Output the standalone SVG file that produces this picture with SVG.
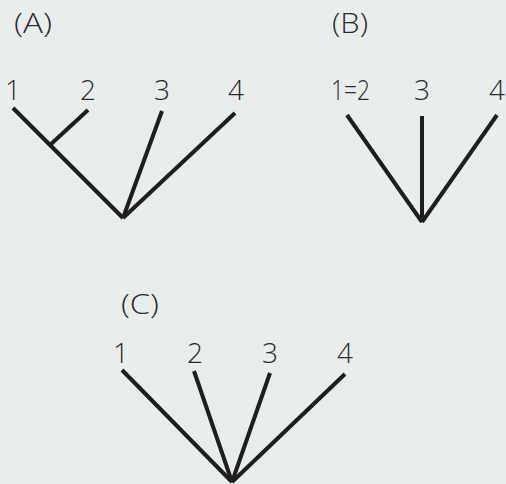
<svg xmlns="http://www.w3.org/2000/svg" width="506" height="484" viewBox="0 0 506 484">
<style>
.bg{fill:#e9eeed}
.t{font-family:"Open Sans","Liberation Sans",sans-serif;font-weight:300;fill:#2a2a2a}
.lbl{font-size:27px}
.num{font-size:28px}
.e{stroke:#1e1e1e;stroke-width:4;stroke-linecap:butt;fill:none}
</style>
<rect class="bg" x="0" y="0" width="506" height="484"/>
<g id="treeA">
<text class="t lbl" x="14" y="33" textLength="38" lengthAdjust="spacingAndGlyphs">(A)</text>
<g id="A-leaf1"><text class="t num" x="13" y="100" text-anchor="middle">1</text></g>
<g id="A-leaf2"><text class="t num" x="88" y="100" text-anchor="middle">2</text></g>
<g id="A-leaf3"><text class="t num" x="162" y="100" text-anchor="middle">3</text></g>
<g id="A-leaf4"><text class="t num" x="236" y="100" text-anchor="middle">4</text></g>
</g>
<g id="treeB">
<text class="t lbl" x="332" y="33" textLength="36" lengthAdjust="spacingAndGlyphs">(B)</text>
<g id="B-leaf12"><text class="t num" x="331" y="100" textLength="39" lengthAdjust="spacingAndGlyphs">1=2</text></g>
<g id="B-leaf3"><text class="t num" x="422" y="100" text-anchor="middle">3</text></g>
<g id="B-leaf4"><text class="t num" x="497" y="100" text-anchor="middle">4</text></g>
</g>
<g id="treeC">
<text class="t lbl" x="121" y="314" textLength="38" lengthAdjust="spacingAndGlyphs">(C)</text>
<g id="C-leaf1"><text class="t num" x="121" y="363" text-anchor="middle">1</text></g>
<g id="C-leaf2"><text class="t num" x="195" y="363" text-anchor="middle">2</text></g>
<g id="C-leaf3"><text class="t num" x="270" y="363" text-anchor="middle">3</text></g>
<g id="C-leaf4"><text class="t num" x="345" y="363" text-anchor="middle">4</text></g>
</g>
<g id="connectors">
<line class="e" x1="13" y1="108" x2="123" y2="218"/>
<line class="e" x1="88" y1="110" x2="50" y2="145"/>
<line class="e" x1="162" y1="111" x2="123" y2="218"/>
<line class="e" x1="235" y1="113" x2="123" y2="218"/>
<line class="e" x1="347" y1="115" x2="422" y2="222"/>
<line class="e" x1="422" y1="116" x2="422" y2="222"/>
<line class="e" x1="497" y1="115" x2="422" y2="222"/>
<line class="e" x1="122" y1="370" x2="232" y2="482"/>
<line class="e" x1="194" y1="371" x2="232" y2="482"/>
<line class="e" x1="270" y1="373" x2="232" y2="482"/>
<line class="e" x1="345" y1="374" x2="232" y2="482"/>
</g>
</svg>
